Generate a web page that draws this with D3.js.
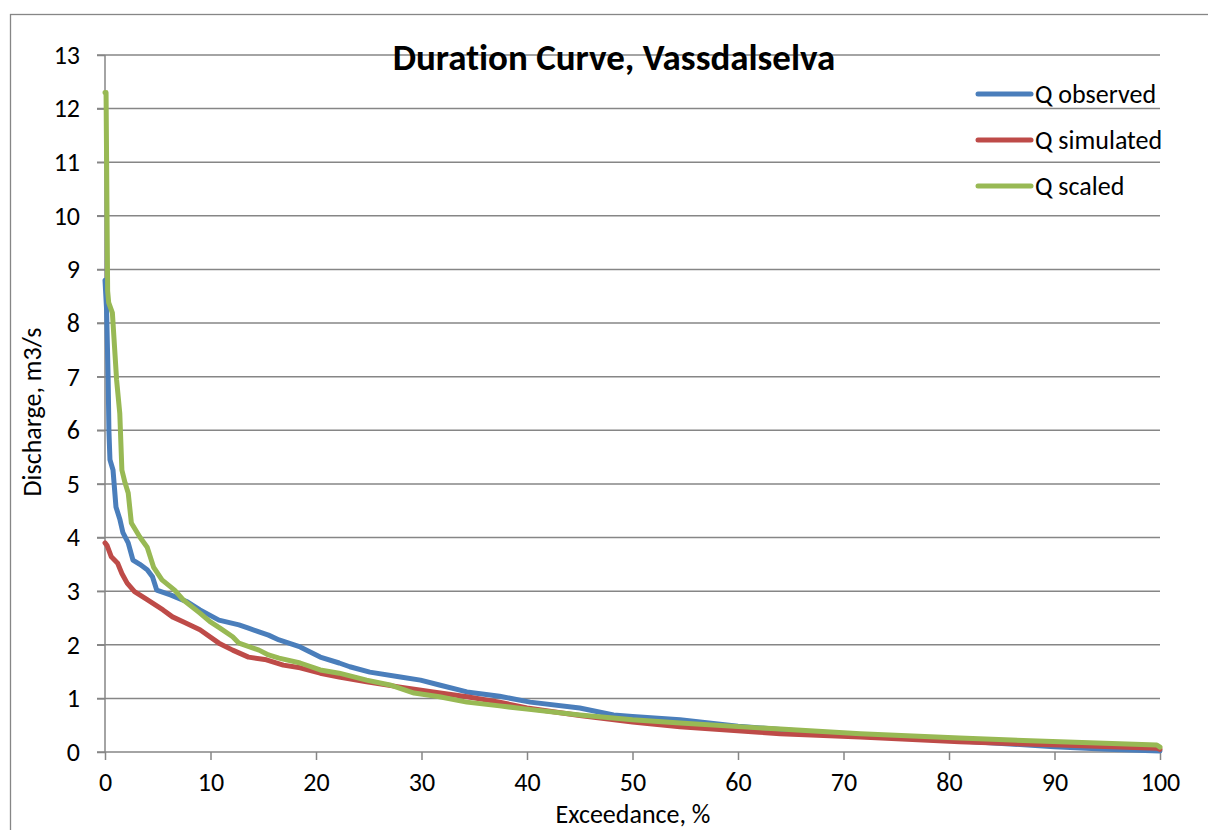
<!DOCTYPE html>
<html>
<head>
<meta charset="utf-8">
<script src="https://cdn.jsdelivr.net/npm/d3@7"></script>
<style>
  html, body { margin: 0; padding: 0; background: #fff; }
  svg { display: block; font-family: Carlito, Lato, "Open Sans", sans-serif; font-variant-ligatures: none; }
  svg text { font-family: Carlito, Lato, "Open Sans", sans-serif; font-variant-ligatures: none; }
</style>
</head>
<body>
<svg id="chart" width="1208" height="830"></svg>
<script>
// Flow duration curve for Vassdalselva: discharge (m3/s) vs. % of time exceeded.
const xTicks = [0, 10, 20, 30, 40, 50, 60, 70, 80, 90, 100];
const yTicks = [0, 1, 2, 3, 4, 5, 6, 7, 8, 9, 10, 11, 12, 13];

const obsExceed = [0, 0.15, 0.3, 0.37, 0.47, 0.76, 1.04, 1.42, 1.7, 2.2, 2.65, 3.3, 4.0, 4.5, 4.9, 6.2, 7.8, 9.0, 10.8, 12.7, 13.6, 14.6, 15.5, 16.5, 18.5, 19.4, 20.4, 22.2, 23.2, 25.1, 28, 29.9, 31.7, 34.3, 37.4, 40.3, 45, 48.2, 50, 54.5, 60, 64, 70, 80, 90, 95, 100];
const obsQ      = [8.8, 8.25, 6.94, 6.0, 5.45, 5.26, 4.57, 4.33, 4.09, 3.9, 3.58, 3.5, 3.4, 3.27, 3.02, 2.93, 2.8, 2.65, 2.46, 2.37, 2.31, 2.24, 2.18, 2.09, 1.96, 1.87, 1.77, 1.66, 1.59, 1.49, 1.40, 1.34, 1.25, 1.12, 1.04, 0.93, 0.82, 0.69, 0.66, 0.6, 0.48, 0.42, 0.33, 0.22, 0.1, 0.05, 0.02];

const simExceed = [0, 0.2, 0.6, 1.2, 1.6, 2.1, 2.8, 4.0, 5.5, 6.4, 7.5, 9, 10.8, 12.1, 13.6, 15.3, 16.9, 18.5, 20.4, 22.2, 24.8, 28, 31.1, 34.3, 37.4, 40, 45, 50, 54.5, 62, 64, 71.6, 81, 90.5, 99.7, 100];
const simQ      = [3.9, 3.85, 3.64, 3.52, 3.33, 3.15, 2.99, 2.84, 2.65, 2.52, 2.42, 2.28, 2.03, 1.9, 1.77, 1.72, 1.62, 1.57, 1.47, 1.40, 1.31, 1.21, 1.12, 1.03, 0.93, 0.82, 0.68, 0.56, 0.47, 0.37, 0.34, 0.28, 0.19, 0.13, 0.07, 0.05];

const scaExceed = [0, 0.1, 0.25, 0.35, 0.7, 1.1, 1.4, 1.6, 1.9, 2.2, 2.5, 3.3, 4.0, 4.6, 5.4, 6.6, 7.4, 9.0, 9.95, 10.9, 12.1, 12.7, 14.6, 15.5, 16.5, 18.5, 20.4, 22.2, 24.8, 27, 29.3, 31.7, 34.3, 37.4, 40, 45, 50, 54.5, 62, 64, 71.6, 81, 90.5, 99.7, 100];
const scaQ      = [12.3, 12.3, 8.6, 8.38, 8.19, 6.94, 6.32, 5.26, 5.02, 4.83, 4.27, 4.01, 3.82, 3.45, 3.21, 3.02, 2.84, 2.59, 2.43, 2.31, 2.15, 2.03, 1.90, 1.81, 1.75, 1.66, 1.53, 1.47, 1.34, 1.25, 1.10, 1.03, 0.93, 0.86, 0.80, 0.69, 0.6, 0.54, 0.45, 0.43, 0.34, 0.26, 0.19, 0.13, 0.09];

const seriesNames = ["Q observed", "Q simulated", "Q scaled"];
const seriesColors = ["#4a7ebb", "#be4b48", "#98b954"];

const series = [
  { name: seriesNames[0], color: seriesColors[0], pts: obsExceed.map((p, i) => [p, obsQ[i]]) },
  { name: seriesNames[1], color: seriesColors[1], pts: simExceed.map((p, i) => [p, simQ[i]]) },
  { name: seriesNames[2], color: seriesColors[2], pts: scaExceed.map((p, i) => [p, scaQ[i]]) }
];

const svg = d3.select("#chart");
const gridColor = "#868686";
const fontStack = "Carlito, Lato, 'Open Sans', sans-serif";

// Chart area frame
svg.append("rect")
  .attr("x", 10.5).attr("y", 14.5)
  .attr("width", 1300).attr("height", 900)
  .attr("fill", "#fff").attr("stroke", gridColor).attr("stroke-width", 1.3);

const x = d3.scaleLinear().domain([0, 100]).range([105, 1160]);
const y = d3.scaleLinear().domain([0, 13]).range([752, 55]);

// Horizontal gridlines with outward ticks
svg.append("g").selectAll("line")
  .data(yTicks.slice(1))
  .join("line")
  .attr("x1", 97).attr("x2", x(100))
  .attr("y1", d => y(d)).attr("y2", d => y(d))
  .attr("stroke", gridColor).attr("stroke-width", 1.5);

// Y axis
const yAxis = svg.append("g")
  .attr("transform", `translate(${x(0)},0)`)
  .call(d3.axisLeft(y).tickValues(yTicks).tickSize(8).tickPadding(17).tickFormat(d3.format("d")));
yAxis.attr("font-family", fontStack).attr("font-size", 26);
yAxis.select(".domain").attr("stroke", gridColor).attr("stroke-width", 1.5).attr("d", `M0,${y(13)}V${y(0)}`);
yAxis.selectAll(".tick line").attr("stroke", gridColor).attr("stroke-width", 1.5);
yAxis.selectAll(".tick text").attr("fill", "#000");

// X axis
const xAxis = svg.append("g")
  .attr("transform", `translate(0,${y(0)})`)
  .call(d3.axisBottom(x).tickValues(xTicks).tickSize(8).tickPadding(13).tickFormat(d3.format("d")));
xAxis.attr("font-family", fontStack).attr("font-size", 26);
xAxis.select(".domain").attr("stroke", gridColor).attr("stroke-width", 1.5).attr("d", `M97,0H${x(100)}`);
xAxis.selectAll(".tick line").attr("stroke", gridColor).attr("stroke-width", 1.5);
xAxis.selectAll(".tick text").attr("fill", "#000");

// Curves
const line = d3.line().x(d => x(d[0])).y(d => y(d[1]));
svg.append("g").selectAll("path")
  .data(series)
  .join("path")
  .attr("d", d => line(d.pts))
  .attr("fill", "none")
  .attr("stroke", d => d.color)
  .attr("stroke-width", 5)
  .attr("stroke-linejoin", "round")
  .attr("stroke-linecap", "round");

// Title
svg.append("text")
  .attr("x", 614).attr("y", 70)
  .attr("text-anchor", "middle")
  .attr("font-size", 37).attr("font-weight", "bold")
  .text("Duration Curve, Vassdalselva");

// Axis titles
svg.append("text")
  .attr("x", 633).attr("y", 823)
  .attr("text-anchor", "middle").attr("font-size", 26)
  .text("Exceedance, %");
svg.append("text")
  .attr("transform", "translate(41,412) rotate(-90)")
  .attr("text-anchor", "middle").attr("font-size", 26)
  .text("Discharge, m3/s");

// Legend
const legend = svg.append("g").selectAll("g")
  .data(series)
  .join("g")
  .attr("transform", (d, i) => `translate(978,${94 + i * 46})`);
legend.append("line")
  .attr("x1", 0).attr("x2", 53)
  .attr("stroke", d => d.color).attr("stroke-width", 5).attr("stroke-linecap", "round");
legend.append("text")
  .attr("x", 57).attr("y", 9)
  .attr("font-size", 26)
  .text(d => d.name);
</script>
</body>
</html>
